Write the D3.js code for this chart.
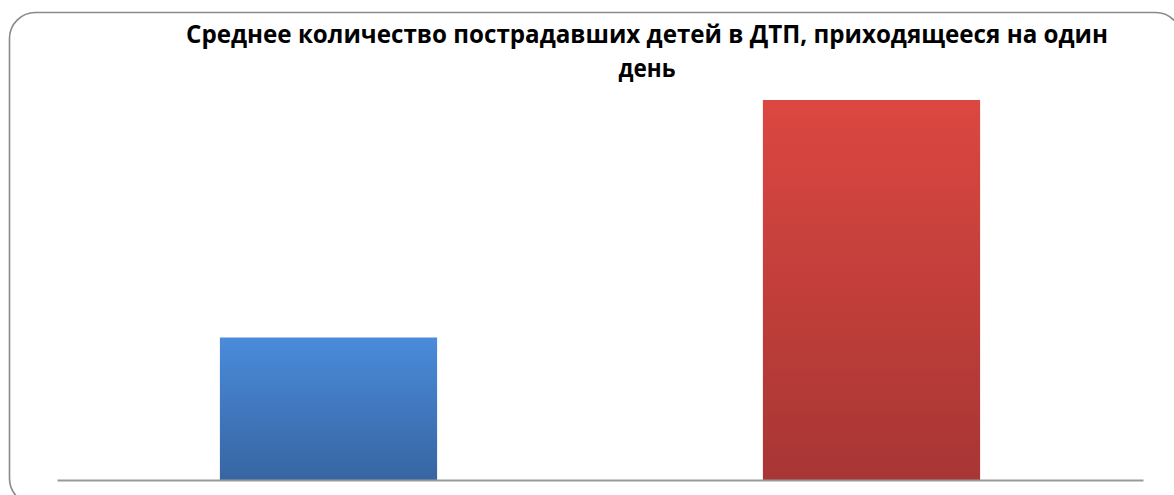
<!DOCTYPE html>
<html>
<head>
<meta charset="utf-8">
<script src="https://cdn.jsdelivr.net/npm/d3@7"></script>
<style>
  html, body { margin: 0; padding: 0; background: #fff; }
  svg { display: block; }
</style>
</head>
<body>
<svg id="chart" width="1174" height="495"></svg>
<script>
// Average number of children injured in road accidents per day
const categories = ["Период 1", "Период 2"];
const values = [3, 8];
const barColors = [
  { top: "#4a8bdb", bottom: "#3765a2" },
  { top: "#dc4741", bottom: "#a73634" }
];
const titleLines = [
  "Среднее количество пострадавших детей в ДТП, приходящееся на один",
  "день"
];

const svg = d3.select("#chart");

// Rounded chart frame
svg.append("rect")
  .attr("x", 9.5).attr("y", 12.5)
  .attr("width", 1172).attr("height", 492)
  .attr("rx", 26).attr("ry", 26)
  .attr("fill", "#fff")
  .attr("stroke", "#8a8a8a")
  .attr("stroke-width", 1.6);

const plot = { left: 57, right: 1143, baseline: 480, top: 100 };

const x = d3.scaleBand()
  .domain(categories)
  .range([plot.left, plot.right])
  .paddingInner(0.6)
  .paddingOuter(0.3);

const y = d3.scaleLinear()
  .domain([0, d3.max(values)])
  .range([plot.baseline, plot.top]);

// Vertical gradients for each bar
const defs = svg.append("defs");
barColors.forEach((c, i) => {
  const g = defs.append("linearGradient")
    .attr("id", "grad" + i)
    .attr("x1", 0).attr("y1", 0).attr("x2", 0).attr("y2", 1);
  g.append("stop").attr("offset", "0%").attr("stop-color", c.top);
  g.append("stop").attr("offset", "100%").attr("stop-color", c.bottom);
});

svg.append("g")
  .selectAll("rect")
  .data(values)
  .join("rect")
  .attr("x", (d, i) => x(categories[i]))
  .attr("width", x.bandwidth())
  .attr("y", d => y(d))
  .attr("height", d => plot.baseline - y(d))
  .attr("fill", (d, i) => `url(#grad${i})`);

// Category axis line (no labels or ticks)
const xAxis = svg.append("g")
  .attr("transform", `translate(0,${plot.baseline})`)
  .call(d3.axisBottom(x).tickSize(0).tickFormat(""));
xAxis.select(".domain")
  .attr("stroke", "#999")
  .attr("stroke-width", 2);

// Title: two centred lines, the first squeezed to a fixed width
const tx = 647;
const title = svg.append("g")
  .attr("font-family", "'Open Sans', 'Noto Sans', sans-serif")
  .attr("font-weight", "bold")
  .attr("font-size", 25)
  .attr("fill", "#000");

title.selectAll("text")
  .data(titleLines)
  .join("text")
  .attr("x", (d, i) => i === 0 ? tx - 461 : tx)
  .attr("y", (d, i) => 43 + i * 34)
  .attr("text-anchor", (d, i) => i === 0 ? "start" : "middle")
  .each(function (d, i) {
    const t = d3.select(this).text(d);
    if (i === 0) {
      t.attr("textLength", 922).attr("lengthAdjust", "spacingAndGlyphs");
    } else {
      const w = this.getComputedTextLength();
      t.attr("textLength", (w * 0.9).toFixed(1)).attr("lengthAdjust", "spacingAndGlyphs");
    }
  });
</script>
</body>
</html>
